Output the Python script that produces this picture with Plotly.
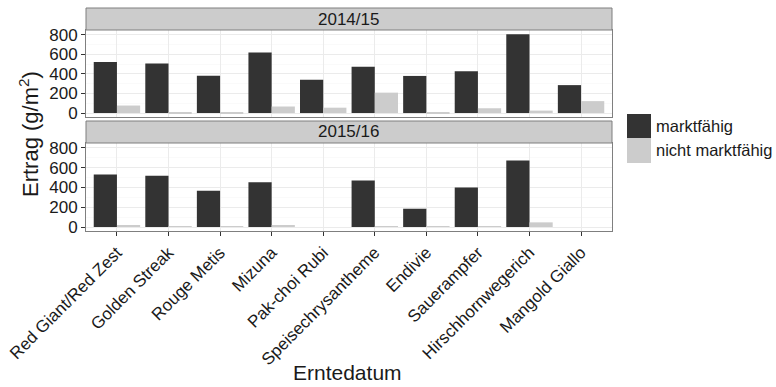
import plotly.graph_objects as go

W, H = 776, 387

categories = ["Red Giant/Red Zest", "Golden Streak", "Rouge Metis", "Mizuna",
              "Pak-choi Rubi", "Speisechrysantheme", "Endivie", "Sauerampfer",
              "Hirschhornwegerich", "Mangold Giallo"]
seasons = ["2014/15", "2015/16"]
series_names = ["marktfähig", "nicht marktfähig"]

marktfaehig_1415 = [522, 508, 383, 620, 341, 474, 380, 428, 808, 286]
nicht_marktfaehig_1415 = [77, 10, 3, 67, 55, 209, 5, 49, 25, 122]
marktfaehig_1516 = [531, 520, 368, 453, None, 471, 185, 400, 673, None]
nicht_marktfaehig_1516 = [15, 10, 5, 15, None, 5, 10, 5, 47, None]

y_ticks = [0, 200, 400, 600, 800]

DARK = "#333333"
LIGHT = "#cccccc"
BORDER = "#7f7f7f"
FONT = "Liberation Sans, Arial, sans-serif"


def px_x(p):
    return p / W


def px_y(p):
    return 1 - p / H


x_dom = [px_x(86), px_x(612)]
panels = [
    # (strip top, strip bottom / panel top, panel bottom)
    (8, 30, 117),
    (121, 143, 231),
]

fig = go.Figure()

data = [
    (marktfaehig_1415, nicht_marktfaehig_1415),
    (marktfaehig_1516, nicht_marktfaehig_1516),
]
for i, (good, bad) in enumerate(data):
    xa = "x" if i == 0 else "x2"
    ya = "y" if i == 0 else "y2"
    fig.add_trace(go.Bar(x=categories, y=good, name=series_names[0],
                         marker=dict(color=DARK, line=dict(width=0)),
                         xaxis=xa, yaxis=ya, showlegend=False))
    fig.add_trace(go.Bar(x=categories, y=bad, name=series_names[1],
                         marker=dict(color=LIGHT, line=dict(width=0)),
                         xaxis=xa, yaxis=ya, showlegend=False))

common_x = dict(type="category", categoryorder="array", categoryarray=categories,
                range=[-0.6, 9.6], domain=x_dom, showgrid=True, gridcolor="#ebebeb",
                showline=True, mirror=True, linecolor=BORDER, linewidth=1,
                zeroline=False, automargin=False, fixedrange=True)
common_y = dict(range=[-40.5, 850.5], tickvals=y_ticks, showgrid=True,
                gridcolor="#ebebeb", showline=True, mirror=True, linecolor=BORDER,
                linewidth=1, zeroline=False, ticks="outside", ticklen=4,
                tickcolor="#333333", tickfont=dict(size=17, color="#1a1a1a", family=FONT),
                minor=dict(tickvals=[100, 300, 500, 700], showgrid=True,
                           gridcolor="#fafafa", ticks=""),
                automargin=False, fixedrange=True)

fig.update_layout(
    xaxis=dict(common_x, anchor="y", showticklabels=False, ticks=""),
    yaxis=dict(common_y, anchor="x",
               domain=[px_y(panels[0][2]), px_y(panels[0][1])]),
    xaxis2=dict(common_x, anchor="y2", ticks="outside", ticklen=4,
                tickcolor="#333333", tickangle=-45,
                tickfont=dict(size=17, color="#1a1a1a", family=FONT)),
    yaxis2=dict(common_y, anchor="x2",
                domain=[px_y(panels[1][2]), px_y(panels[1][1])]),
    barmode="group", bargap=0.1, bargroupgap=0,
    width=W, height=H, margin=dict(l=0, r=0, t=0, b=0),
    paper_bgcolor="white", plot_bgcolor="white",
    font=dict(family=FONT, color="#1a1a1a"),
    showlegend=False,
)

shapes = []
annotations = []

# facet strips
for season, (s_top, s_bot, _) in zip(seasons, panels):
    shapes.append(dict(type="rect", xref="paper", yref="paper",
                       x0=x_dom[0], x1=x_dom[1], y0=px_y(s_bot), y1=px_y(s_top),
                       fillcolor=LIGHT, line=dict(color=BORDER, width=1)))
    annotations.append(dict(text=season, xref="paper", yref="paper",
                            x=(x_dom[0] + x_dom[1]) / 2, y=px_y((s_top + s_bot) / 2),
                            showarrow=False, font=dict(size=17, color="#1a1a1a"),
                            xanchor="center", yanchor="middle"))

# legend keys
key_x0, key_x1 = 627, 651
for name, color, (k_top, k_bot) in zip(series_names, [DARK, LIGHT],
                                        [(114, 138), (138, 163)]):
    shapes.append(dict(type="rect", xref="paper", yref="paper",
                       x0=px_x(key_x0), x1=px_x(key_x1),
                       y0=px_y(k_bot), y1=px_y(k_top),
                       fillcolor=color, line=dict(width=0)))
    annotations.append(dict(text=name, xref="paper", yref="paper",
                            x=px_x(654), y=px_y((k_top + k_bot) / 2),
                            showarrow=False, xanchor="left", yanchor="middle",
                            font=dict(size=16.5, color="#1a1a1a")))

# axis titles
annotations.append(dict(text="Ertrag (g/m<sup>2</sup>)", xref="paper", yref="paper",
                        x=px_x(29), y=px_y(134), textangle=-90, showarrow=False,
                        xanchor="center", yanchor="middle",
                        font=dict(size=22, color="#1a1a1a")))
annotations.append(dict(text="Erntedatum", xref="paper", yref="paper",
                        x=px_x(347), y=px_y(372), showarrow=False,
                        xanchor="center", yanchor="middle",
                        font=dict(size=21, color="#1a1a1a")))

fig.update_layout(shapes=shapes, annotations=annotations)

fig.write_html("out.html")
